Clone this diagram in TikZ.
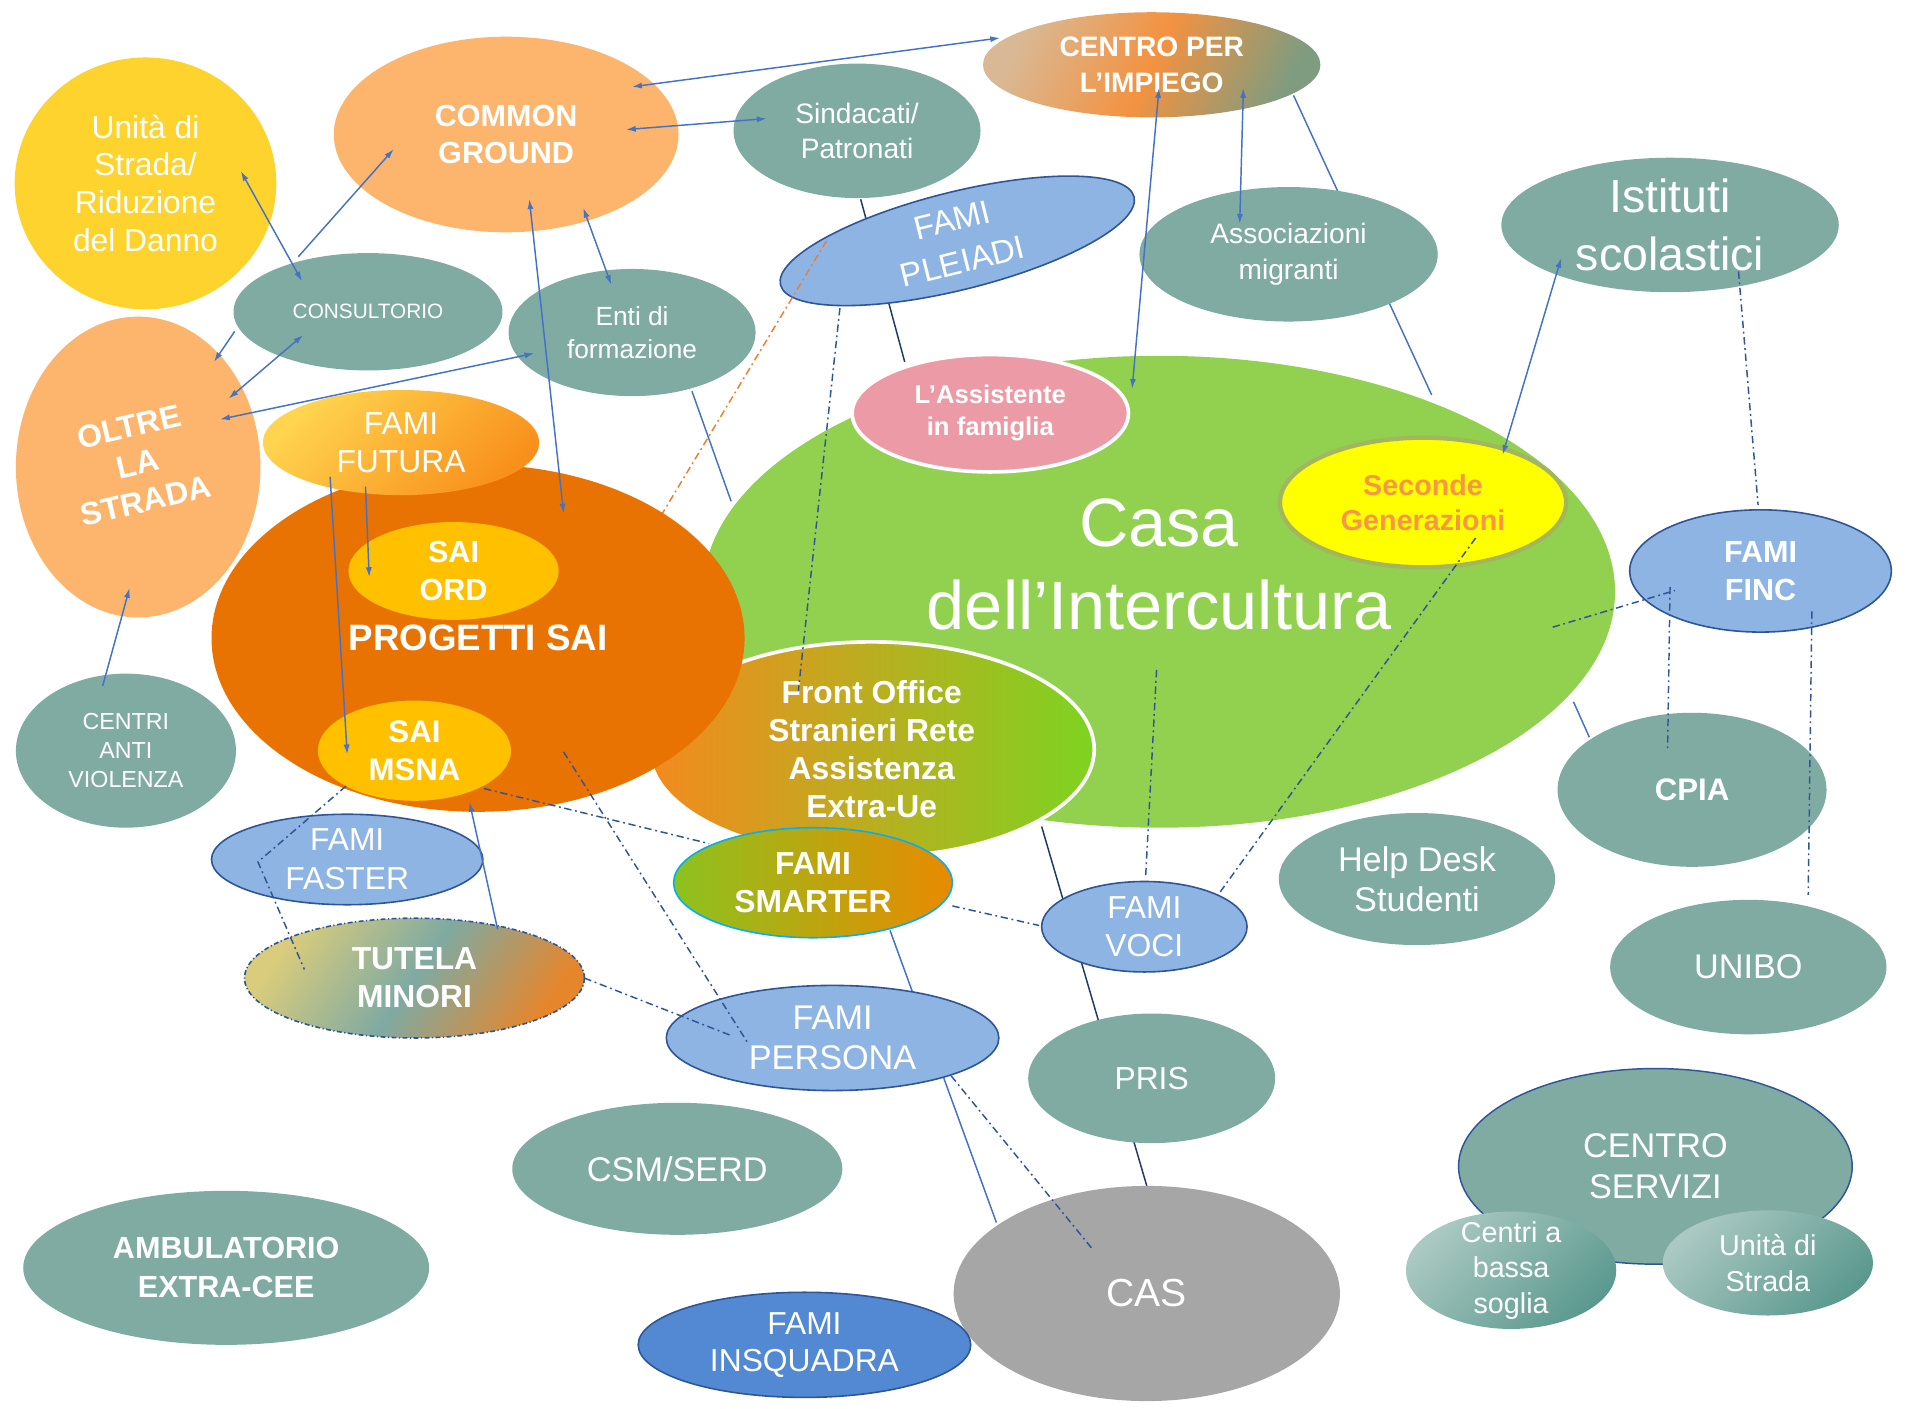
\documentclass[tikz,border=0pt]{standalone}
\usepackage{fontspec}
\setmainfont{Liberation Sans}
\usepackage{xcolor}
\usepackage{graphicx}
\usepackage{tikz}
\usetikzlibrary{arrows.meta,shapes.geometric,calc,backgrounds}

\definecolor{cteal}{HTML}{80ABA3}
\definecolor{cpeach}{HTML}{FDB46C}
\definecolor{cgold}{HTML}{FED32D}
\definecolor{cbeige}{HTML}{D9B995}
\definecolor{cpumpkin}{HTML}{F39240}
\definecolor{csage}{HTML}{7F9C80}
\definecolor{cfami}{HTML}{8DB4E2}
\definecolor{crim}{HTML}{2F5597}
\definecolor{cdashor}{HTML}{ED7D31}
\definecolor{cgrass}{HTML}{92D050}
\definecolor{crose}{HTML}{EC9AA5}
\definecolor{cyell}{HTML}{FFFF00}
\definecolor{cseconde}{HTML}{A3B55F}
\definecolor{csecondetxt}{HTML}{F79646}
\definecolor{cfoor}{HTML}{F5891F}
\definecolor{cfogr}{HTML}{7ED321}
\definecolor{csai}{HTML}{E97302}
\definecolor{camber}{HTML}{FFC000}
\definecolor{cfuty}{HTML}{FFD54F}
\definecolor{cfuto}{HTML}{F8901C}
\definecolor{csmg}{HTML}{8DC21F}
\definecolor{csmo}{HTML}{E88A00}
\definecolor{cskyrim}{HTML}{00B0F0}
\definecolor{ctuty}{HTML}{D9CC7C}
\definecolor{ctutm}{HTML}{7FAAA2}
\definecolor{ctuto}{HTML}{E6862C}
\definecolor{cgray}{HTML}{A6A6A6}
\definecolor{cdeep}{HTML}{5388D3}
\definecolor{cmint}{HTML}{ABC9C3}
\definecolor{cpine}{HTML}{5B998E}
\definecolor{clink}{HTML}{4472C4}
\definecolor{cnavy}{HTML}{203864}

\newcommand{\fsz}[2]{\fontsize{#1}{#2}\selectfont}

\begin{document}
\begin{tikzpicture}[x=1pt,y=-1pt,
  bub/.style={ellipse,inner sep=0pt,align=center,text=white},
  tealbub/.style={bub,fill=cteal},
  famibub/.style={bub,fill=cfami,draw=crim,line width=1.3pt},
  wire/.style={draw=clink,line width=1.2pt},
  arr/.style={wire,-{Latex[length=8pt,width=5pt]}},
  darr/.style={wire,{Latex[length=8pt,width=5pt]}-{Latex[length=8pt,width=5pt]}},
  ddash/.style={draw=crim,line width=1.2pt,dash pattern=on 6pt off 3pt on 1.5pt off 3pt}
]
\useasboundingbox (0,0) rectangle (1568,1152);

\node[bub,fill=cgold,minimum width=214,minimum height=206,font=\fsz{26}{31}] (unita) at (119,150) {Unità di\\Strada/\\Riduzione\\del Danno};
\node[bub,fill=cpeach,minimum width=282,minimum height=160,font=\fsz{25}{31}\bfseries] (common) at (414,110) {COMMON\\GROUND};
\node[bub,left color=cbeige,right color=csage,middle color=cpumpkin,shading angle=65,minimum width=276,minimum height=86,font=\fsz{23}{29}\bfseries] (cpi) at (942,53) {CENTRO PER\\L’IMPIEGO};
\node[tealbub,minimum width=202,minimum height=110,font=\fsz{23}{29}] (sind) at (701,107) {Sindacati/\\Patronati};
\node[tealbub,minimum width=220,minimum height=96,font=\fsz{17}{20}] (consult) at (301,255) {CONSULTORIO};
\node[tealbub,minimum width=202,minimum height=104,font=\fsz{21.5}{27}] (enti) at (517,272) {Enti di\\formazione};
\node[bub,fill=cpeach,minimum width=200,minimum height=246,font=\fsz{26}{31}\bfseries] (oltre) at (113,382) {\rotatebox{13}{\begin{tabular}{@{}c@{}}OLTRE\\LA\\STRADA\end{tabular}}};
\node[tealbub,minimum width=244,minimum height=110,font=\fsz{23}{29}] (assoc) at (1054,208) {Associazioni\\migranti};
\node[tealbub,minimum width=276,minimum height=110,font=\fsz{38}{48}] (istituti) at (1366,184) {Istituti\\scolastici};
\node[famibub,rotate=14,inner sep=-4pt,minimum width=298,minimum height=80,font=\fsz{27}{35}] (pleiadi) at (783,197) {FAMI\\PLEIADI};

\coordinate (saitip) at (502,486);
\draw[ddash,draw=cdashor] ($(pleiadi)+(-107,0)$) -- (saitip);

\node[bub,fill=cgrass,minimum width=746,minimum height=386,text depth=45pt,font=\fsz{56}{68}] (casa) at (948,484) {Casa\\dell’Intercultura};
\node[bub,fill=crose,draw=white,line width=3pt,minimum width=226,minimum height=96,font=\fsz{21}{26}\bfseries] (assist) at (810,338) {L’Assistente\\in famiglia};
\node[bub,fill=cyell,draw=cseconde,line width=3.5pt,text=csecondetxt,minimum width=234,minimum height=106,font=\fsz{23.5}{29}\bfseries] (seconde) at (1164,411) {Seconde\\Generazioni};
\node[bub,left color=cfoor,right color=cfogr,draw=white,line width=3pt,minimum width=364,minimum height=176,font=\fsz{26}{31}\bfseries] (front) at (713,613) {Front Office\\Stranieri Rete\\Assistenza\\Extra-Ue};
\node[bub,fill=csai,minimum width=436,minimum height=284,font=\fsz{30}{36}\bfseries] (prog) at (391,522) {PROGETTI SAI};
\node[bub,fill=camber,minimum width=172,minimum height=80,font=\fsz{25}{31}\bfseries] (saiord) at (371,467) {SAI\\ORD};
\node[bub,fill=camber,minimum width=158,minimum height=82,font=\fsz{25.5}{31}\bfseries] (msna) at (339,614) {SAI\\MSNA};
\node[bub,top color=cfuty,bottom color=cfuto,shading angle=45,minimum width=226,minimum height=86,font=\fsz{26}{31}] (futura) at (328,362) {FAMI\\FUTURA};
\node[tealbub,minimum width=180,minimum height=126,font=\fsz{19}{23.5}] (antiv) at (103,614) {CENTRI\\ANTI\\VIOLENZA};
\node[famibub,minimum width=214,minimum height=100,font=\fsz{25}{31}\bfseries] (finc) at (1440,467) {FAMI\\FINC};
\node[tealbub,minimum width=220,minimum height=126,font=\fsz{25.5}{31}\bfseries] (cpia) at (1384,646) {CPIA};
\node[tealbub,minimum width=226,minimum height=108,font=\fsz{28}{33}] (help) at (1159,719) {Help Desk\\Studenti};
\node[tealbub,minimum width=226,minimum height=110,font=\fsz{28}{33}] (unibo) at (1430,791) {UNIBO};
\node[famibub,minimum width=222,minimum height=74,font=\fsz{26}{32}] (faster) at (284,703) {FAMI\\FASTER};
\node[bub,left color=csmg,right color=csmo,draw=cskyrim,line width=1.3pt,minimum width=228,minimum height=90,font=\fsz{26}{31}\bfseries] (smarter) at (665,722) {FAMI\\SMARTER};
\node[famibub,minimum width=168,minimum height=74,font=\fsz{26}{31}] (voci) at (936,758) {FAMI\\VOCI};
\node[bub,left color=ctuty,right color=ctuto,middle color=ctutm,shading angle=56,draw=crim,line width=1.3pt,dash pattern=on 4pt off 2pt on 1pt off 2pt,minimum width=278,minimum height=98,font=\fsz{26}{31}\bfseries] (tutela) at (339,800) {TUTELA\\MINORI};
\node[famibub,minimum width=272,minimum height=86,font=\fsz{28}{33}] (persona) at (681,849) {FAMI\\PERSONA};
\node[tealbub,minimum width=202,minimum height=106,font=\fsz{26}{31}] (pris) at (942,882) {PRIS};
\node[tealbub,minimum width=270,minimum height=108,font=\fsz{28}{33}] (csm) at (554,956) {CSM/SERD};
\node[tealbub,minimum width=332,minimum height=126,font=\fsz{25}{32}\bfseries] (ambul) at (185,1037) {AMBULATORIO\\EXTRA-CEE};
\node[bub,fill=cgray,minimum width=316,minimum height=176,font=\fsz{32}{38}] (cas) at (938,1058) {CAS};
\node[famibub,fill=cdeep,minimum width=272,minimum height=86,font=\fsz{26}{30}] (insq) at (658,1100) {FAMI\\INSQUADRA};
\node[tealbub,draw=crim,line width=1.2pt,minimum width=322,minimum height=160,font=\fsz{28}{33}] (servizi) at (1354,954) {CENTRO\\SERVIZI};
\node[bub,top color=cmint,bottom color=cpine,shading angle=45,inner sep=-9pt,minimum width=172,minimum height=96,font=\fsz{23.5}{29}] (bassa) at (1236,1039) {Centri a\\bassa\\soglia};
\node[bub,top color=cmint,bottom color=cpine,shading angle=45,minimum width=172,minimum height=86,font=\fsz{23.5}{29}] (ustrada) at (1446,1033) {Unità di\\Strada};

\draw[darr] ($(common)+(103,-39)$) -- ($(cpi)+(-124,-22)$);
\draw[darr] ($(common)+(98,-4)$) -- ($(sind)+(-74,-10)$);
\draw[darr] ($(unita)+(78,-10)$) -- ($(consult)+(-54,-25)$);
\draw[arr] ($(consult)+(-57,-45)$) -- ($(common)+(-92,12)$);
\draw[arr] ($(consult)+(-109,16)$) -- ($(oltre)+(62,-86)$);
\draw[darr] ($(consult)+(-53,19)$) -- ($(oltre)+(74,-56)$);
\draw[darr] ($(enti)+(-80,17)$) -- ($(oltre)+(67,-39)$);
\draw[darr] ($(common)+(63,60)$) -- ($(enti)+(-17,-39)$);
\draw[darr] ($(common)+(19,53)$) -- ($(prog)+(70,-102)$);
\draw[arr] ($(futura)+(-29,36)$) -- ($(saiord)+(-69,5)$);
\draw[arr] ($(futura)+(-58,28)$) -- ($(msna)+(-55,3)$);
\draw[arr] ($(tutela)+(68,-40)$) -- ($(msna)+(45,42)$);
\draw[arr] ($(antiv)+(-19,-53)$) -- ($(oltre)+(-7,99)$);
\draw[darr] ($(cpi)+(6,19)$) -- ($(casa)+(-22,-166)$);
\draw[darr] ($(cpi)+(75,19)$) -- ($(assoc)+(-40,-25)$);
\draw[darr] ($(istituti)+(-89,27)$) -- ($(seconde)+(65,-39)$);

\draw[ddash] ($(pleiadi)+(-96,55)$) -- ($(front)+(-60,-48)$);
\draw[ddash] ($(istituti)+(56,38)$) -- ($(finc)+(-2,-54)$);
\draw[ddash] ($(casa)+(322,29)$) -- ($(finc)+(-70,16)$);
\draw[ddash] ($(finc)+(-74,13)$) -- ($(cpia)+(-20,-34)$);
\draw[ddash] ($(finc)+(42,33)$) -- ($(unibo)+(49,-59)$);
\draw[ddash] ($(seconde)+(43,29)$) -- ($(voci)+(61,-27)$);
\draw[ddash] ($(casa)+(-2,64)$) -- ($(voci)+(1,-40)$);
\draw[ddash] ($(msna)+(57,31)$) -- ($(smarter)+(-85,-32)$);
\draw[ddash] ($(smarter)+(114,19)$) -- ($(voci)+(-86,-1)$);
\draw[ddash] ($(prog)+(70,93)$) -- ($(persona)+(-70,3)$);
\draw[ddash] ($(tutela)+(139,0)$) -- ($(persona)+(-83,-2)$);
\draw[ddash] ($(msna)+(-56,29)$) -- ($(faster)+(-73,2)$) -- ($(tutela)+(-90,-7)$);
\draw[ddash] ($(persona)+(97,31)$) -- ($(cas)+(-45,-37)$);

\begin{scope}[on background layer]
\fill[white] (0,0) rectangle (1568,1152);
\draw[wire] ($(cpi)+(116,25)$) -- ($(casa)+(223,-161)$);
\draw[wire,draw=cnavy] ($(sind)+(3,56)$) -- ($(assist)+(-70,-42)$);
\draw[wire] ($(enti)+(49,48)$) -- ($(casa)+(-350,-74)$);
\draw[wire] ($(casa)+(339,90)$) -- ($(cpia)+(-84,-43)$);
\draw[wire,draw=cnavy] ($(front)+(139,63)$) -- ($(cas)+(0,-88)$);
\draw[wire] ($(smarter)+(63,39)$) -- ($(cas)+(-123,-58)$);
\end{scope}
\end{tikzpicture}
\end{document}
